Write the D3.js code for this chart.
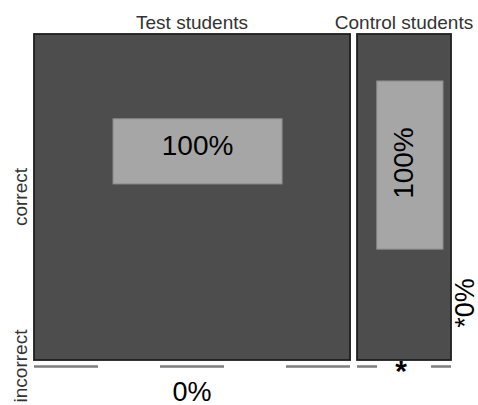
<!DOCTYPE html>
<html>
<head lang="en">
    <meta charset="UTF-8">
    <title></title>
    <script src="https://cdn.jsdelivr.net/npm/d3@7"></script>
    <style>
        body{margin:0;background:#fff;}
        text{font-family:"Liberation Sans",Arial,sans-serif;}
    </style>
</head>
<body>
<script>
    // groups (column widths follow group size)
    var groups=["Test students","Control students"];
    var groupN=[74,22];
    var outcomes=["correct","incorrect"];
    var correctPct=[100,100];
    var incorrectPct=[0,0];
    var incorrectMark=["","*"];

    var W=478,H=405,padL=34,padR=451,padT=34,padB=360,gap=7;
    var total=d3.sum(groupN);
    var x=d3.scaleLinear().domain([0,total]).range([padL,padR-gap*(groups.length-1)]);
    var y=d3.scaleLinear().domain([0,1]).range([padT,padB]);

    var cum=0;
    var cols=groups.map(function(g,i){
        var x0=x(cum)+i*gap;
        cum+=groupN[i];
        var x1=x(cum)+i*gap;
        return {name:g,x0:x0,x1:x1,correct:correctPct[i],incorrect:incorrectPct[i],mark:incorrectMark[i]};
    });

    // label box placement inside each column (fractions of the column)
    var boxes=[
        {fx0:0.25,fx1:0.785,fy0:0.26,fy1:0.46,rot:false},
        {fx0:0.21,fx1:0.915,fy0:0.144,fy1:0.66,rot:true}
    ];
    // dash pattern of the empty "incorrect" strip
    var dashes=["64,62","20,54"];

    var svg=d3.select("body").append("svg").attr("width",W).attr("height",H);

    var col=svg.selectAll("g.col").data(cols).enter().append("g").attr("class","col");

    col.append("rect")
        .attr("x",function(d){return d.x0;})
        .attr("y",function(d){return y(0);})
        .attr("width",function(d){return d.x1-d.x0;})
        .attr("height",function(d){return y(d.correct/100)-y(0);})
        .style("fill","#4d4d4d")
        .style("stroke","#1e1e1e")
        .style("stroke-width",1.8);

    col.append("text")
        .attr("x",function(d){return (d.x0+d.x1)/2;})
        .attr("y",29)
        .attr("text-anchor","middle")
        .style("font-size","19px")
        .style("fill","#333")
        .text(function(d){return d.name;});

    col.each(function(d,i){
        var g=d3.select(this),b=boxes[i],w=d.x1-d.x0;
        var bx0=d.x0+b.fx0*w,bx1=d.x0+b.fx1*w,by0=y(b.fy0),by1=y(b.fy1);
        g.append("rect")
            .attr("x",bx0).attr("y",by0)
            .attr("width",bx1-bx0).attr("height",by1-by0)
            .style("fill","#a6a6a6")
            .style("stroke","#8a8a8a")
            .style("stroke-width",1);
        var cx=(bx0+bx1)/2,cy=(by0+by1)/2;
        if(b.rot){
            g.append("text")
                .attr("transform","translate("+(cx-7)+","+(cy-2)+") rotate(-90)")
                .attr("text-anchor","middle")
                .attr("dy","0.36em")
                .style("font-size","28px")
                .text(d.correct+"%");
        }else{
            g.append("text")
                .attr("x",cx).attr("y",cy-6)
                .attr("text-anchor","middle")
                .attr("dy","0.36em")
                .style("font-size","28px")
                .text(d.correct+"%");
        }
        // empty incorrect strip
        g.append("line")
            .attr("x1",d.x0).attr("x2",d.x1)
            .attr("y1",y(1)+6.5).attr("y2",y(1)+6.5)
            .style("stroke","#7f7f7f")
            .style("stroke-width",2.5)
            .style("stroke-dasharray",dashes[i]);
    });

    // incorrect percentages
    svg.append("text")
        .attr("x",(cols[0].x0+cols[0].x1)/2).attr("y",401)
        .attr("text-anchor","middle")
        .style("font-size","27px")
        .text(cols[0].incorrect+"%");
    svg.append("text")
        .attr("x",(cols[1].x0+cols[1].x1)/2-3).attr("y",381)
        .attr("text-anchor","middle")
        .style("font-size","30px")
        .style("font-weight","bold")
        .text(cols[1].mark);
    svg.append("text")
        .attr("transform","translate(474,303) rotate(-90)")
        .attr("text-anchor","middle")
        .style("font-size","27px")
        .text(cols[1].mark+cols[1].incorrect+"%");

    // outcome labels
    svg.selectAll("text.ylab").data(outcomes).enter().append("text")
        .attr("class","ylab")
        .attr("transform",function(d,i){
            var cy=i===0?y(0.5):y(1)+6;
            return "translate(27,"+cy+") rotate(-90)";
        })
        .attr("text-anchor","middle")
        .style("font-size","19px")
        .style("fill","#333")
        .text(function(d){return d;});
</script>
</body>
</html>
